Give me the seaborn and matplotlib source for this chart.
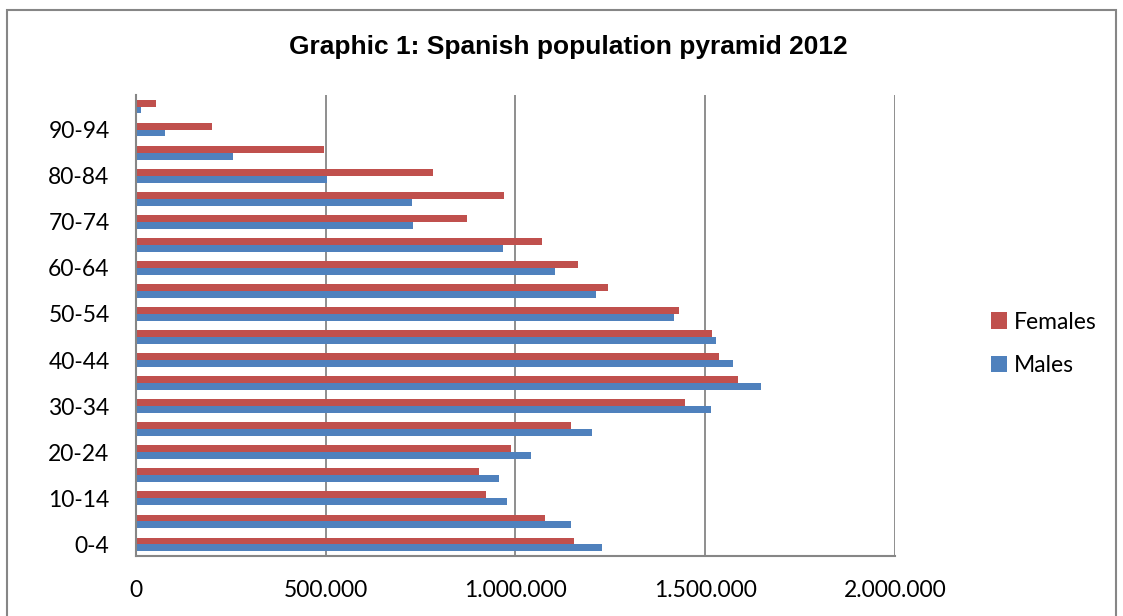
import matplotlib
matplotlib.use("Agg")
import matplotlib.pyplot as plt
from matplotlib.patches import Rectangle
from matplotlib.ticker import FuncFormatter, MultipleLocator
import pandas as pd
import seaborn as sns

# Spanish population 2012 by age group
age_groups = ["0-4", "5-9", "10-14", "15-19", "20-24", "25-29", "30-34",
              "35-39", "40-44", "45-49", "50-54", "55-59", "60-64", "65-69",
              "70-74", "75-79", "80-84", "85-89", "90-94", "95+"]
males = [1227000, 1145000, 978000, 956000, 1041000, 1202000, 1516000,
         1648000, 1574000, 1529000, 1417000, 1211000, 1103000, 968000,
         730000, 728000, 503000, 255000, 76000, 14000]
females = [1153000, 1078000, 923000, 905000, 987000, 1146000, 1447000,
           1586000, 1537000, 1518000, 1432000, 1243000, 1165000, 1071000,
           872000, 970000, 782000, 495000, 200000, 52000]

title = "Graphic 1: Spanish population pyramid 2012"
colors = {"Females": "#C0504D", "Males": "#4F81BD"}
grey = "#868686"

df = pd.DataFrame({
    "age": age_groups * 2,
    "population": males + females,
    "sex": ["Males"] * len(males) + ["Females"] * len(females),
})

sns.set_style("white")
plt.rcParams["font.family"] = ["Lato", "DejaVu Sans"]
plt.rcParams["text.color"] = "black"

fig = plt.figure(figsize=(11.23, 6.16), dpi=100)
ax = fig.add_axes([136 / 1123, 1 - 556 / 616, (895 - 136) / 1123, (556 - 95) / 616])

sns.barplot(data=df, y="age", x="population", hue="sex",
            order=age_groups[::-1], hue_order=["Females", "Males"],
            palette=colors, orient="h", width=0.6, saturation=1,
            errorbar=None, linewidth=0, gap=0, ax=ax)

ax.set_xlim(0, 2000000)
ax.xaxis.set_major_locator(MultipleLocator(500000))
ax.xaxis.set_major_formatter(FuncFormatter(lambda v, p: f"{int(v):,}".replace(",", ".")))
ax.set_axisbelow(True)
ax.grid(axis="x", color=grey, linewidth=1.3)
ax.grid(axis="y", visible=False)

# show every other age label, as in the original
ylabels = [lab if i % 2 == 0 else "" for i, lab in enumerate(age_groups)][::-1]
ax.set_yticks(range(len(age_groups)))
ax.set_yticklabels(ylabels)
ax.tick_params(axis="both", length=0, labelsize=16.5, colors="black")
ax.tick_params(axis="y", pad=19)
ax.tick_params(axis="x", pad=17)
ax.set_xlabel("")
ax.set_ylabel("")

for side in ["top", "right"]:
    ax.spines[side].set_visible(False)
for side in ["left", "bottom"]:
    ax.spines[side].set_color(grey)
    ax.spines[side].set_linewidth(1.5)

handles, labels = ax.get_legend_handles_labels()
ax.legend(handles, labels, loc="center left",
          bbox_to_anchor=(991 / 1123, 1 - 344 / 616),
          bbox_transform=fig.transFigure, frameon=False, fontsize=16.5,
          labelcolor="black",
          handlelength=0.7, handleheight=0.7, handletextpad=0.3,
          labelspacing=1.0, borderaxespad=0, borderpad=0)

fig.text(568 / 1123, 1 - 47 / 616, title, ha="center", va="center",
         fontsize=19, fontweight="bold", color="black",
         family=["Liberation Sans", "DejaVu Sans"])

# outer chart border
fig.patches.append(Rectangle((7 / 1123, -0.05), 1109 / 1123, 1.05 - 10 / 616,
                             transform=fig.transFigure, fill=False,
                             edgecolor=grey, linewidth=1.5))

fig.savefig("out.png", dpi=100)
plt.close(fig)
